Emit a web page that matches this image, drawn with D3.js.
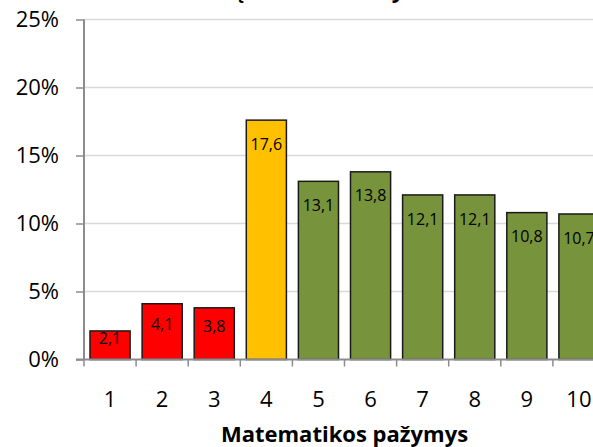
<!DOCTYPE html>
<html>
<head>
<meta charset="utf-8">
<script src="https://cdn.jsdelivr.net/npm/d3@7"></script>
<style>
  body { margin: 0; background: #fff; }
  svg { display: block; font-family: "Open Sans", sans-serif; }
</style>
</head>
<body>
<svg id="chart"></svg>
<script>
const W = 593, H = 447;
const margin = {top: 19.5, right: -12, bottom: 87.5, left: 84};
const width = W - margin.left - margin.right;
const height = H - margin.top - margin.bottom;

// data
const grades = ['1', '2', '3', '4', '5', '6', '7', '8', '9', '10'];
const shares = [2.1, 4.1, 3.8, 17.6, 13.1, 13.8, 12.1, 12.1, 10.8, 10.7];
const yTicks = [0, 5, 10, 15, 20, 25];
const gradeColor = g => +g <= 3 ? '#FF0000' : (+g === 4 ? '#FFC000' : '#77933C');

const svg = d3.select('#chart')
    .attr('width', W)
    .attr('height', H)
    .append('g')
    .attr('transform', `translate(${margin.left},${margin.top})`);

const x = d3.scaleBand()
    .domain(grades)
    .range([0, width])
    .paddingInner(0.23)
    .paddingOuter(0.115);

const y = d3.scaleLinear()
    .domain([0, 25])
    .range([height, 0]);

// gridlines
svg.append('g')
    .selectAll('line')
    .data(yTicks.slice(1))
    .enter()
    .append('line')
    .attr('x1', 0)
    .attr('x2', width)
    .attr('y1', d => y(d))
    .attr('y2', d => y(d))
    .attr('stroke', '#D9D9D9')
    .attr('stroke-width', 1.5);

// y axis
const yAxis = svg.append('g')
    .call(d3.axisLeft(y).tickValues(yTicks).tickSize(8).tickFormat(d => d + '%'));
yAxis.selectAll('line').attr('stroke', '#8C8C8C').attr('stroke-width', 1.5);
yAxis.select('.domain').attr('stroke', '#8C8C8C').attr('stroke-width', 2).attr('d', `M0,${height}V0`);
yAxis.selectAll('text')
    .attr('x', -25)
    .attr('font-size', '22px')
    .attr('font-family', '"Open Sans", sans-serif')
    .attr('fill', '#000');

// bars
svg.selectAll('.bar')
    .data(grades)
    .enter()
    .append('rect')
    .attr('class', 'bar')
    .attr('x', d => x(d))
    .attr('width', x.bandwidth())
    .attr('y', (d, i) => y(shares[i]))
    .attr('height', (d, i) => height - y(shares[i]))
    .attr('fill', d => gradeColor(d))
    .attr('stroke', '#1A1A1A')
    .attr('stroke-width', 1.5);

// bar labels
svg.selectAll('.lbl')
    .data(grades)
    .enter()
    .append('text')
    .attr('class', 'lbl')
    .attr('x', d => x(d) + x.bandwidth() / 2)
    .attr('y', (d, i) => {
        const h = height - y(shares[i]);
        return y(shares[i]) + Math.min(24, (h - 14) / 2);
    })
    .attr('dy', '0.35em')
    .attr('text-anchor', 'middle')
    .attr('font-size', '16px')
    .attr('fill', '#000')
    .text((d, i) => String(shares[i]).replace('.', ','));

// x axis
const step = x.step();
const xb = svg.append('g').attr('transform', `translate(0,${height})`);
xb.append('line')
    .attr('x1', -8).attr('x2', width)
    .attr('stroke', '#8C8C8C').attr('stroke-width', 2);
xb.selectAll('.tk')
    .data(grades)
    .enter()
    .append('line')
    .attr('class', 'tk')
    .attr('x1', d => x(d) - step * x.paddingInner() / 2)
    .attr('x2', d => x(d) - step * x.paddingInner() / 2)
    .attr('y1', 0)
    .attr('y2', 7)
    .attr('stroke', '#8C8C8C')
    .attr('stroke-width', 1.5);
xb.selectAll('.xl')
    .data(grades)
    .enter()
    .append('text')
    .attr('class', 'xl')
    .attr('x', d => x(d) + x.bandwidth() / 2)
    .attr('y', 47)
    .attr('text-anchor', 'middle')
    .attr('font-size', '22px')
    .attr('fill', '#000')
    .text(d => d);

// axis title
svg.append('text')
    .attr('x', width / 2)
    .attr('y', height + 82)
    .attr('text-anchor', 'middle')
    .attr('font-size', '22px')
    .attr('font-weight', 'bold')
    .attr('fill', '#000')
    .text('Matematikos pažymys');

// chart title (cut off at the top edge)
d3.select('#chart').append('text')
    .attr('x', 285)
    .attr('y', -2)
    .attr('text-anchor', 'middle')
    .attr('font-size', '22px')
    .attr('font-weight', 'bold')
    .attr('fill', '#000')
    .text('Mokinių skaičiaus dalys');
</script>
</body>
</html>
